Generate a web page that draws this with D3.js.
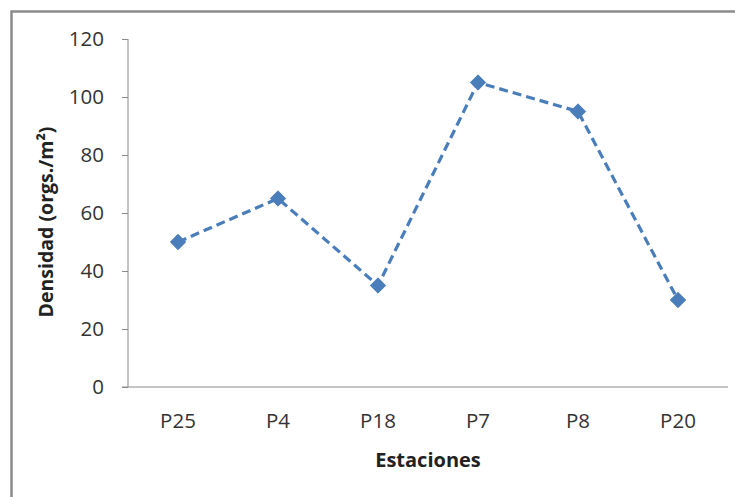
<!DOCTYPE html>
<html>
<head>
<meta charset="utf-8">
<script src="https://cdn.jsdelivr.net/npm/d3@7"></script>
<style>
  body { margin: 0; background: #fff; }
  svg { display: block; }
  svg text { font-family: "Open Sans", "Noto Sans", sans-serif; }
</style>
</head>
<body>
<svg width="735" height="497"></svg>
<script>
const estaciones = ["P25", "P4", "P18", "P7", "P8", "P20"];
const densidad = [50, 65, 35, 105, 95, 30];
const yTicks = [0, 20, 40, 60, 80, 100, 120];

const svg = d3.select("svg");
const margin = { top: 39, right: 7, bottom: 110, left: 128 };
const width = 735 - margin.left - margin.right;
const height = 497 - margin.top - margin.bottom;

// outer frame, runs off the right and bottom edge like the picture
svg.append("rect")
    .attr("x", 11.5).attr("y", 11.5)
    .attr("width", 740).attr("height", 500)
    .attr("fill", "none")
    .attr("stroke", "#8c8c8c")
    .attr("stroke-width", 2.5);

const g = svg.append("g")
    .attr("transform", `translate(${margin.left},${margin.top})`);

const x = d3.scaleBand().domain(estaciones).range([0, width]);
const y = d3.scaleLinear().domain([0, 120]).range([height, 0]);

const yAxis = g.append("g")
    .call(d3.axisLeft(y).tickValues(yTicks).tickSize(6).tickPadding(18));
yAxis.attr("font-family", null);
yAxis.select(".domain").attr("stroke", "#8a8a8a").attr("d", `M0,0V${height}`);
yAxis.selectAll(".tick line").attr("stroke", "#8a8a8a");
yAxis.selectAll("text").attr("font-size", 20.5).attr("fill", "#333");

const xAxis = g.append("g")
    .attr("transform", `translate(0,${height})`)
    .call(d3.axisBottom(x).tickSize(0).tickPadding(26));
xAxis.attr("font-family", null);
xAxis.select(".domain").attr("stroke", "#8a8a8a").attr("d", `M-6,0H${width}`);
xAxis.selectAll("text").attr("font-size", 20.5).attr("fill", "#333");

const pts = estaciones.map((e, i) => [x(e) + x.bandwidth() / 2, y(densidad[i])]);

g.append("path")
    .datum(pts)
    .attr("fill", "none")
    .attr("stroke", "#4a7ebb")
    .attr("stroke-width", 3.2)
    .attr("stroke-dasharray", "9,5")
    .attr("d", d3.line());

g.selectAll(".pt")
    .data(pts)
    .enter()
    .append("path")
    .attr("class", "pt")
    .attr("transform", d => `translate(${d[0]},${d[1]})`)
    .attr("d", d3.symbol(d3.symbolDiamond2, 150))
    .attr("fill", "#4a7ebb")
    .attr("stroke", "#4a7ebb")
    .attr("stroke-width", 1);

svg.append("text")
    .attr("transform", "translate(53,222) rotate(-90)")
    .attr("text-anchor", "middle")
    .attr("font-size", 19.5)
    .attr("font-weight", "bold")
    .attr("fill", "#222")
    .text("Densidad (orgs./m²)");

svg.append("text")
    .attr("x", 428).attr("y", 467)
    .attr("text-anchor", "middle")
    .attr("font-size", 20)
    .attr("font-weight", "bold")
    .attr("fill", "#222")
    .text("Estaciones");
</script>
</body>
</html>
